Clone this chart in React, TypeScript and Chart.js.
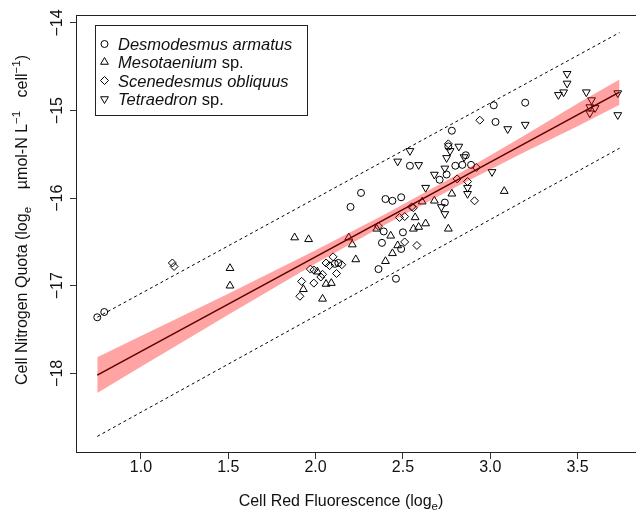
import React, { useEffect, useRef } from "react";
import { Chart, registerables } from "chart.js";

Chart.register(...registerables);

// ---- axis ticks ----
const xTicks = [1.0, 1.5, 2.0, 2.5, 3.0, 3.5];
const yTicks = [-18, -17, -16, -15, -14];
const xRange = [0.634, 3.863];
const yRange = [-18.898, -13.909];

// ---- species observations [x = log_e red fluorescence, y = log_e N quota] ----
const desmodesmus: [number, number][] = [
  [0.75, -17.36], [0.79, -17.3], [2.2, -16.1], [3.02, -14.94], [3.2, -14.91], [3.03, -15.13],
  [2.78, -15.23], [2.76, -15.41], [2.54, -15.63], [2.8, -15.63], [2.84, -15.62], [2.86, -15.51],
  [2.89, -15.62], [2.71, -15.79], [2.75, -15.73], [2.26, -15.94], [2.4, -16.01], [2.44, -16.03],
  [2.49, -15.99], [2.74, -16.05], [2.5, -16.39], [2.38, -16.51], [2.36, -16.81], [2.46, -16.92],
  [2.49, -16.58], [2.39, -16.38], [2.11, -16.75], [2.13, -16.74],
];
const mesotaenium: [number, number][] = [
  [1.88, -16.45], [1.96, -16.47], [1.51, -16.8], [1.51, -17.0], [2.19, -16.45], [2.21, -16.53],
  [2.23, -16.7], [1.93, -17.04], [2.04, -17.15], [2.06, -16.98], [2.09, -16.97], [2.01, -16.84],
  [3.08, -15.92], [2.78, -15.95], [2.68, -16.03], [2.76, -16.35], [2.63, -16.29], [2.59, -16.33],
  [2.56, -16.35], [2.57, -16.22], [2.43, -16.43], [2.35, -16.35], [2.47, -16.54], [2.44, -16.63],
  [2.4, -16.72], [2.61, -16.04],
];
const scenedesmus: [number, number][] = [
  [1.18, -16.74], [1.19, -16.78], [2.1, -16.67], [2.06, -16.74], [2.08, -16.77], [2.15, -16.76],
  [2.12, -16.86], [1.97, -16.81], [1.99, -16.82], [1.92, -16.95], [1.99, -16.97], [1.91, -17.12],
  [2.03, -16.9], [2.04, -16.87], [2.94, -15.11], [2.76, -15.38], [2.87, -15.81], [2.91, -16.03],
  [2.81, -15.78], [2.92, -15.65], [2.55, -16.1], [2.56, -16.11], [2.48, -16.22], [2.51, -16.21],
  [2.51, -16.5], [2.58, -16.54], [2.36, -16.32],
];
const tetraedron: [number, number][] = [
  [3.44, -14.58], [3.44, -14.69], [3.39, -14.82], [3.42, -14.79], [3.55, -14.79], [3.58, -14.88],
  [3.57, -14.96], [3.57, -15.03], [3.6, -14.97], [3.73, -14.8], [3.73, -15.05], [3.1, -15.21],
  [3.2, -15.16], [2.54, -15.46], [2.47, -15.58], [2.59, -15.62], [2.82, -15.41], [2.77, -15.46],
  [2.75, -15.54], [2.85, -15.53], [2.74, -15.66], [2.68, -15.73], [3.01, -15.7], [2.63, -15.88],
  [2.87, -15.88], [2.87, -15.95], [2.72, -16.1], [2.74, -16.18],
];

// ---- fitted regression, its confidence band and prediction limits ----
const fitLine: [number, number][] = [[0.75, -18.02], [3.74, -14.79]];
const bandUpper: [number, number][] = [
  [0.75, -17.815], [1.0, -17.575], [1.5, -17.09], [2.0, -16.595], [2.4, -16.18],
  [2.8, -15.745], [3.2, -15.28], [3.5, -14.92], [3.74, -14.645],
];
const bandLower: [number, number][] = [
  [0.75, -18.225], [1.0, -17.925], [1.5, -17.33], [2.0, -16.745], [2.4, -16.3],
  [2.8, -15.875], [3.2, -15.47], [3.5, -15.18], [3.74, -14.935],
];
const predUpper: [number, number][] = [[0.75, -17.36], [3.74, -14.11]];
const predLower: [number, number][] = [[0.75, -18.72], [3.74, -15.43]];

const legendRows = [
  { sym: "circle", runs: [{ t: "Desmodesmus armatus", it: true }] },
  { sym: "up", runs: [{ t: "Mesotaenium", it: true }, { t: " sp.", it: false }] },
  { sym: "diamond", runs: [{ t: "Scenedesmus obliquus", it: true }] },
  { sym: "down", runs: [{ t: "Tetraedron", it: true }, { t: " sp.", it: false }] },
];

const FONT = '"Liberation Sans", Arial, Helvetica, sans-serif';
const INK = "#111";

const pts = (a: [number, number][]) => a.map(([x, y]) => ({ x, y }));

type Run = { t: string; it?: boolean; pos?: "sub" | "sup" };

function drawRuns(ctx: CanvasRenderingContext2D, runs: Run[], cx: number, baseY: number, size: number, align: "center" | "left") {
  const fontFor = (r: Run) => {
    const s = r.pos ? size * 0.72 : size;
    return `${r.it ? "italic " : ""}${s}px ${FONT}`;
  };
  let total = 0;
  const widths = runs.map((r) => {
    ctx.font = fontFor(r);
    const w = ctx.measureText(r.t).width;
    total += w;
    return w;
  });
  let x = align === "center" ? cx - total / 2 : cx;
  ctx.textAlign = "left";
  ctx.textBaseline = "alphabetic";
  runs.forEach((r, i) => {
    ctx.font = fontFor(r);
    const dy = r.pos === "sub" ? size * 0.28 : r.pos === "sup" ? -size * 0.42 : 0;
    ctx.fillText(r.t, x, baseY + dy);
    x += widths[i];
  });
}

function drawSymbol(ctx: CanvasRenderingContext2D, sym: string, x: number, y: number) {
  ctx.beginPath();
  if (sym === "circle") {
    ctx.arc(x, y, 3.5, 0, Math.PI * 2);
  } else if (sym === "diamond") {
    const r = 4;
    ctx.moveTo(x, y - r);
    ctx.lineTo(x + r, y);
    ctx.lineTo(x, y + r);
    ctx.lineTo(x - r, y);
    ctx.closePath();
  } else {
    const r = 4.5;
    const s = sym === "up" ? 1 : -1;
    for (let k = 0; k < 3; k++) {
      const a = (k * 2 * Math.PI) / 3;
      const px = x + Math.sin(a) * r;
      const py = y - s * Math.cos(a) * r;
      if (k === 0) ctx.moveTo(px, py);
      else ctx.lineTo(px, py);
    }
    ctx.closePath();
  }
  ctx.stroke();
}

const decorPlugin = {
  id: "decor",
  afterDraw(chart: any) {
    const ctx: CanvasRenderingContext2D = chart.ctx;
    const { left, right, top, bottom } = chart.chartArea;
    const xs = chart.scales.x;
    const ys = chart.scales.y;
    ctx.save();
    // plot box
    ctx.strokeStyle = "#222";
    ctx.lineWidth = 1;
    ctx.strokeRect(Math.round(left) - 0.5, Math.round(top) + 0.5, Math.round(right - left), Math.round(bottom - top));

    ctx.fillStyle = INK;
    // x tick labels
    ctx.font = `16px ${FONT}`;
    ctx.textAlign = "center";
    ctx.textBaseline = "alphabetic";
    xTicks.forEach((v) => {
      ctx.fillText(v.toFixed(1), xs.getPixelForValue(v), 472);
    });
    // y tick labels (rotated)
    yTicks.forEach((v) => {
      const py = ys.getPixelForValue(v);
      ctx.save();
      ctx.translate(62, py);
      ctx.rotate(-Math.PI / 2);
      ctx.textAlign = "center";
      ctx.fillText("\u2212" + Math.abs(v), 0, 0);
      ctx.restore();
    });
    // x title
    drawRuns(ctx, [{ t: "Cell Red Fluorescence (log" }, { t: "e", pos: "sub" }, { t: ")" }], 341, 506, 16, "center");
    // y title
    ctx.save();
    ctx.translate(27, 220);
    ctx.rotate(-Math.PI / 2);
    drawRuns(
      ctx,
      [
        { t: "Cell Nitrogen Quota (log" },
        { t: "e", pos: "sub" },
        { t: "    \u00b5mol-N L" },
        { t: "\u22121", pos: "sup" },
        { t: "   cell" },
        { t: "\u22121", pos: "sup" },
        { t: ")" },
      ],
      0,
      0,
      16,
      "center"
    );
    ctx.restore();

    // legend
    ctx.fillStyle = "#fff";
    ctx.fillRect(95.5, 25.5, 212, 90);
    ctx.strokeStyle = "#222";
    ctx.strokeRect(95.5, 25.5, 212, 90);
    ctx.strokeStyle = "#000";
    ctx.fillStyle = INK;
    const rowY = [44, 62, 80.5, 99];
    legendRows.forEach((row, i) => {
      drawSymbol(ctx, row.sym, 104.5, rowY[i]);
      drawRuns(ctx, row.runs, 118, rowY[i] + 6, 16.5, "left");
    });
    ctx.restore();
  },
};

export default function App() {
  const ref = useRef<HTMLCanvasElement | null>(null);
  useEffect(() => {
    if (!ref.current) return;
    const scatterDs = (label: string, data: [number, number][], style: string, radius: number, rotation = 0) => ({
      type: "scatter" as const,
      label,
      data: pts(data),
      pointStyle: style,
      pointRadius: radius,
      pointRotation: rotation,
      pointBorderWidth: 1,
      pointBorderColor: "#000",
      pointBackgroundColor: "rgba(0,0,0,0)",
      borderColor: "#000",
      backgroundColor: "rgba(0,0,0,0)",
      showLine: false,
    });
    const lineDs = (label: string, data: [number, number][], extra: any) => ({
      type: "line" as const,
      label,
      data: pts(data),
      pointRadius: 0,
      tension: 0,
      fill: false,
      ...extra,
    });
    const chart = new Chart(ref.current, {
      type: "scatter",
      data: {
        datasets: [
          lineDs("band upper", bandUpper, { borderWidth: 0, borderColor: "rgba(0,0,0,0)", backgroundColor: "rgba(255,0,0,0.36)", fill: "+1" }),
          lineDs("band lower", bandLower, { borderWidth: 0, borderColor: "rgba(0,0,0,0)" }),
          lineDs("fit", fitLine, { borderWidth: 1.6, borderColor: "#000" }),
          lineDs("pred upper", predUpper, { borderWidth: 1, borderColor: "#000", borderDash: [3, 3] }),
          lineDs("pred lower", predLower, { borderWidth: 1, borderColor: "#000", borderDash: [3, 3] }),
          scatterDs("Desmodesmus armatus", desmodesmus, "circle", 3.5),
          scatterDs("Mesotaenium sp.", mesotaenium, "triangle", 4.5),
          scatterDs("Scenedesmus obliquus", scenedesmus, "rectRot", 4),
          scatterDs("Tetraedron sp.", tetraedron, "triangle", 4.5, 180),
        ] as any,
      },
      options: {
        animation: false,
        responsive: false,
        devicePixelRatio: 1,
        events: [],
        layout: { padding: { left: 0, top: 15, right: 9, bottom: 0 } },
        plugins: { legend: { display: false }, tooltip: { enabled: false }, title: { display: false } },
        scales: {
          x: {
            type: "linear",
            min: xRange[0],
            max: xRange[1],
            afterBuildTicks: (s: any) => {
              s.ticks = xTicks.map((v) => ({ value: v }));
            },
            afterFit: (s: any) => {
              s.height = 66;
            },
            grid: { display: true, drawOnChartArea: false, drawTicks: true, tickLength: 7, color: "#333", lineWidth: 1 },
            border: { display: false },
            ticks: { display: false },
          },
          y: {
            type: "linear",
            min: yRange[0],
            max: yRange[1],
            afterBuildTicks: (s: any) => {
              s.ticks = yTicks.map((v) => ({ value: v }));
            },
            afterFit: (s: any) => {
              s.width = 77;
            },
            grid: { display: true, drawOnChartArea: false, drawTicks: true, tickLength: 7, color: "#333", lineWidth: 1 },
            border: { display: false },
            ticks: { display: false },
          },
        },
      } as any,
      plugins: [decorPlugin],
    });
    return () => chart.destroy();
  }, []);
  return (
    <div style={{ position: "fixed", left: 0, top: 0, width: 650, height: 518, background: "#fff" }}>
      <canvas ref={ref} width={650} height={518} style={{ width: 650, height: 518, display: "block" }} />
    </div>
  );
}
